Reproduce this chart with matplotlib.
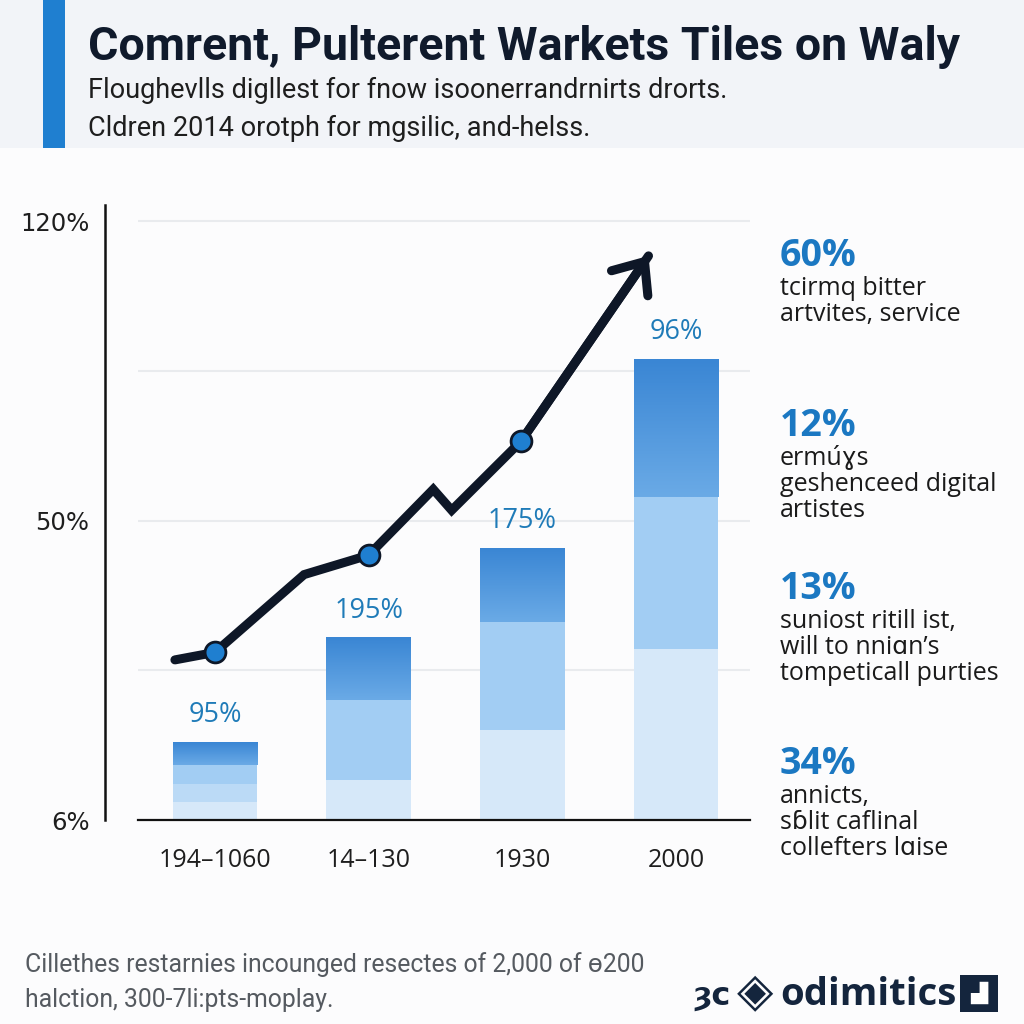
import numpy as np
import matplotlib
matplotlib.use('Agg')
import matplotlib.pyplot as plt
from matplotlib.patches import Rectangle
from matplotlib.colors import LinearSegmentedColormap

# --- data ---
title = 'Comrent, Pulterent Warkets Tiles on Waly'
subtitle = ['Floughevlls digllest for fnow isoonerrandrnirts drorts.',
            'Cldren 2014 orotph for mgsilic, and-helss.']
categories = ['194\u20131060', '14\u2013130', '1930', '2000']
bar_labels = ['95%', '195%', '175%', '96%']

# stacked layers, bottom to top (plot units)
layer_base = [0.12, 0.27, 0.60, 1.14]
layer_pale = [0.12, 0.00, 0.00, 0.00]
layer_mid = [0.13, 0.53, 0.72, 1.02]
layer_top = [0.15, 0.42, 0.50, 0.92]

ytick_vals = [0, 1, 2, 3, 4]
ytick_labels = ['6%', '', '50%', '', '120%']

# trend line (x in category units)
line_x = [-0.26, 0.0, 0.58, 1.0, 1.42, 1.54, 1.99, 2.82]
line_y = [1.07, 1.12, 1.64, 1.77, 2.21, 2.07, 2.53, 3.77]
marker_idx = [1, 3, 6]

side_values = ['60%', '12%', '13%', '34%']
side_texts = [['tcirmq bitter', 'artvites, service'],
              ['ermu\u0301\u0263s', 'geshenceed digital', 'artistes'],
              ['suniost ritill ist,', 'will to nni\u0251n\u2019s', 'tompeticall purties'],
              ['annicts,', 's\u0253lit caflinal', 'collefters l\u0251ise']]

footer = ['Cillethes restarnies incounged resectes of 2,000 of \u0275200',
          'halction, 300-7li:pts-moplay.']

W = 1024.0
def fx(px):
    return px / W
def fy(py):
    return 1 - py / W

navy = '#0e1727'
blue = '#1f7fd0'
sans = ['Open Sans', 'DejaVu Sans']
robo = ['Roboto', 'DejaVu Sans']

fig = plt.figure(figsize=(10.24, 10.24), dpi=100)
fig.patch.set_facecolor('#fcfcfd')

# header band
fig.add_artist(Rectangle((0, fy(148)), 1, 148 / W, transform=fig.transFigure,
                         facecolor='#f2f4f8', edgecolor='none', zorder=0))
fig.add_artist(Rectangle((fx(43), fy(148)), 22 / W, 148 / W, transform=fig.transFigure,
                         facecolor=blue, edgecolor='none', zorder=1))
fig.text(fx(88), fy(60), title, fontsize=33.5, fontweight='bold', family=robo,
         color='#101a2c', va='baseline')
for i, s in enumerate(subtitle):
    fig.text(fx(88), fy(98 + 38 * i), s, fontsize=19.5, family=robo,
             color='#1e1e1e', va='baseline')

# axes
ax = fig.add_axes([fx(138), fy(820), 612 / W, 615 / W])
ax.set_facecolor('none')
for sp in ['top', 'right']:
    ax.spines[sp].set_visible(False)
ax.spines['left'].set_position(('outward', 24))
ax.spines['left'].set_linewidth(1.8)
ax.spines['left'].set_color('#111111')
ax.spines['bottom'].set_linewidth(1.6)
ax.spines['bottom'].set_color('#111111')

x = np.arange(len(categories))
width = 0.55

bottom = np.zeros(len(x))
ax.bar(x, layer_base, width, bottom=bottom, color='#d6e8f9', zorder=2)
bottom += layer_base
ax.bar(x, layer_pale, width, bottom=bottom, color='#bbdaf6', zorder=2)
bottom += layer_pale
ax.bar(x, layer_mid, width, bottom=bottom, color='#a2cdf3', zorder=2)
bottom += layer_mid
tops = ax.bar(x, layer_top, width, bottom=bottom, color='#4d96dc', zorder=2)

grad_cmap = LinearSegmentedColormap.from_list('g', ['#6aaae6', '#3a86d4'])
grad = np.linspace(0, 1, 100).reshape(-1, 1)
for b in tops:
    x0, y0 = b.get_x(), b.get_y()
    im = ax.imshow(grad, extent=[x0, x0 + b.get_width(), y0, y0 + b.get_height()],
                   origin='lower', aspect='auto', cmap=grad_cmap, zorder=3)
    im.set_clip_path(b)

total = bottom + np.array(layer_top)
for xi, t, lab in zip(x, total, bar_labels):
    ax.text(xi, t + 0.085, lab, ha='center', va='bottom', fontsize=19.5,
            family=sans, color='#1f7bb8', zorder=5)

ax.plot(line_x, line_y, color=navy, lw=6.5, solid_capstyle='round',
        solid_joinstyle='miter', zorder=6)
ax.annotate('', xy=(line_x[-1], line_y[-1]), xytext=(line_x[-2], line_y[-2]),
            arrowprops=dict(arrowstyle='->,head_length=0.63,head_width=0.53',
                            lw=6.5, color=navy, mutation_scale=30,
                            shrinkA=0, shrinkB=0, capstyle='round'),
            zorder=6)
ax.plot([line_x[i] for i in marker_idx], [line_y[i] for i in marker_idx], 'o',
        ms=15, mfc=blue, mec=navy, mew=2, zorder=7)

ax.set_xlim(-0.5, 3.48)
ax.set_ylim(0, 4.11)
ax.set_xticks(x)
ax.set_xticklabels(categories, fontsize=18, family=sans, color='#1e1e1e')
ax.set_yticks(ytick_vals)
ax.set_yticklabels(ytick_labels, fontsize=17.5, family=['DejaVu Sans'], color='#1e1e1e')
ax.tick_params(axis='both', length=0)
ax.tick_params(axis='x', pad=20)
ax.tick_params(axis='y', pad=11)
ax.grid(axis='y', color='#e9ebee', lw=1.5, zorder=0)

# side annotations
value_baselines = [266, 436, 599, 774]
for v, lines, yb in zip(side_values, side_texts, value_baselines):
    fig.text(fx(780), fy(yb), v, fontsize=27, fontweight='bold', family=sans,
             color='#1b78c2', va='baseline')
    for j, s in enumerate(lines):
        fig.text(fx(780), fy(yb + 29 + 26 * j), s, fontsize=18, family=sans,
                 color='#1a1a1a', va='baseline')

# footer
for i, s in enumerate(footer):
    fig.text(fx(25), fy(972 + 35 * i), s, fontsize=17.8, family=robo,
             color='#555a60', va='baseline')
fig.text(fx(692), fy(1005), '\u021dc', fontsize=23, fontweight='bold', family=['DejaVu Sans'],
         color='#14253d', va='baseline')
fig.text(fx(755), fy(993), '\u25c8', fontsize=34, family=['DejaVu Sans'],
         color='#14253d', ha='center', va='center')
fig.text(fx(780), fy(1005), 'odimitics', fontsize=27.5, fontweight='bold', family=sans,
         color='#14253d', va='baseline')
fig.add_artist(Rectangle((fx(960), fy(1012)), 38 / W, 37 / W, transform=fig.transFigure,
                         facecolor='#14253d', edgecolor='none'))
fig.text(fx(979), fy(993), '\u259f', fontsize=16, color='white', ha='center', va='center',
         family=['DejaVu Sans'])

fig.savefig('out.png', dpi=100, facecolor=fig.get_facecolor())
